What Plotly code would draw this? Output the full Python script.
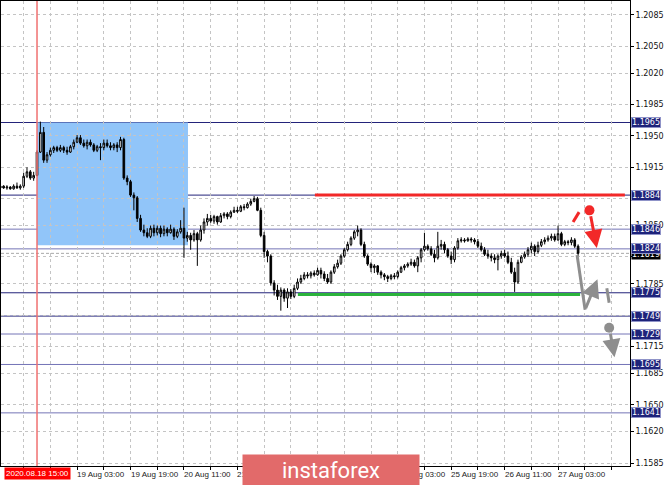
import plotly.graph_objects as go

# ---------------- data (EURUSD H1) ----------------
bar_index = list(range(-11, 163))   # 0 = 2020.08.18 15:00

opens = [1.1892,1.1894,1.1892,1.1893,1.1891,1.1894,1.1892,1.1894,1.1905,1.1910,1.1903,
         1.1906,1.1932,1.1954,1.1923,1.1929,1.1934,1.1937,1.1934,1.1937,1.1934,
         1.1932,1.1938,1.1943,1.1948,1.1942,1.1939,1.1943,1.1940,1.1934,1.1938,
         1.1937,1.1942,1.1939,1.1937,1.1940,1.1937,1.1946,1.1903,1.1899,1.1884,
         1.1881,1.1858,1.1845,1.1842,1.1838,1.1847,1.1842,1.1847,1.1841,1.1846,
         1.1842,1.1846,1.1838,1.1843,1.1847,1.1836,1.1839,1.1834,1.1841,1.1834,
         1.1845,1.1854,1.1858,1.1855,1.1860,1.1854,1.1861,1.1863,1.1860,1.1865,
         1.1867,1.1866,1.1871,1.1870,1.1874,1.1877,1.1880,1.1867,1.1839,1.1821,
         1.1816,1.1786,1.1778,1.1771,1.1778,1.1769,1.1776,1.1771,1.1780,1.1787,
         1.1791,1.1795,1.1794,1.1797,1.1795,1.1800,1.1796,1.1791,1.1787,1.1798,
         1.1804,1.1808,1.1816,1.1823,1.1829,1.1836,1.1843,1.1845,1.1829,1.1816,
         1.1807,1.1803,1.1805,1.1798,1.1795,1.1793,1.1791,1.1794,1.1793,1.1798,
         1.1803,1.1805,1.1807,1.1809,1.1805,1.1814,1.1823,1.1827,1.1824,1.1818,
         1.1814,1.1827,1.1829,1.1823,1.1816,1.1812,1.1825,1.1833,1.1834,1.1833,
         1.1835,1.1834,1.1832,1.1827,1.1823,1.1818,1.1816,1.1814,1.1812,1.1816,
         1.1819,1.1816,1.1809,1.1798,1.1787,1.1809,1.1815,1.1818,1.1823,1.1827,
         1.1821,1.1828,1.1832,1.1834,1.1836,1.1838,1.1834,1.1841,1.1829,1.1832,
         1.1831,1.1834,1.1827]

highs = [1.1896,1.1895,1.1895,1.1894,1.1896,1.1898,1.1896,1.1909,1.1915,1.1912,1.1910,
         1.1934,1.1966,1.1960,1.1932,1.1937,1.1939,1.1939,1.1940,1.1939,1.1938,
         1.1940,1.1946,1.1951,1.1951,1.1946,1.1946,1.1946,1.1942,1.1940,1.1942,
         1.1946,1.1946,1.1943,1.1942,1.1943,1.1949,1.1948,1.1906,1.1901,1.1887,
         1.1883,1.1862,1.1851,1.1847,1.1850,1.1851,1.1850,1.1850,1.1850,1.1848,
         1.1851,1.1848,1.1846,1.1856,1.1870,1.1843,1.1842,1.1845,1.1843,1.1850,
         1.1858,1.1863,1.1862,1.1862,1.1861,1.1864,1.1865,1.1865,1.1867,1.1871,
         1.1871,1.1873,1.1874,1.1876,1.1880,1.1883,1.1882,1.1870,1.1843,1.1823,
         1.1818,1.1789,1.1784,1.1781,1.1780,1.1780,1.1779,1.1784,1.1791,1.1795,
         1.1798,1.1798,1.1799,1.1800,1.1803,1.1803,1.1799,1.1796,1.1800,1.1807,
         1.1812,1.1818,1.1825,1.1832,1.1838,1.1845,1.1850,1.1847,1.1832,1.1818,
         1.1809,1.1807,1.1806,1.1800,1.1797,1.1795,1.1796,1.1797,1.1800,1.1805,
         1.1807,1.1809,1.1813,1.1812,1.1816,1.1825,1.1842,1.1829,1.1827,1.1823,
         1.1843,1.1834,1.1832,1.1825,1.1821,1.1827,1.1836,1.1837,1.1836,1.1837,
         1.1837,1.1836,1.1835,1.1831,1.1826,1.1823,1.1819,1.1818,1.1818,1.1822,
         1.1823,1.1821,1.1814,1.1803,1.1812,1.1817,1.1821,1.1826,1.1831,1.1829,
         1.1832,1.1835,1.1837,1.1839,1.1841,1.1841,1.1850,1.1843,1.1834,1.1834,
         1.1837,1.1836,1.1829]

lows = [1.1890,1.1891,1.1890,1.1890,1.1890,1.1891,1.1890,1.1892,1.1903,1.1901,1.1900,
        1.1905,1.1931,1.1920,1.1920,1.1927,1.1931,1.1932,1.1932,1.1931,1.1929,
        1.1931,1.1935,1.1942,1.1940,1.1937,1.1935,1.1938,1.1932,1.1932,1.1923,
        1.1934,1.1937,1.1934,1.1934,1.1932,1.1934,1.1901,1.1895,1.1882,1.1867,
        1.1854,1.1843,1.1838,1.1836,1.1836,1.1838,1.1839,1.1837,1.1838,1.1838,
        1.1841,1.1834,1.1836,1.1841,1.1814,1.1832,1.1823,1.1832,1.1805,1.1832,
        1.1841,1.1850,1.1853,1.1852,1.1851,1.1853,1.1858,1.1857,1.1858,1.1864,
        1.1864,1.1865,1.1867,1.1869,1.1872,1.1876,1.1866,1.1837,1.1814,1.1809,
        1.1783,1.1772,1.1767,1.1755,1.1765,1.1758,1.1768,1.1769,1.1778,1.1785,
        1.1789,1.1791,1.1791,1.1793,1.1794,1.1791,1.1788,1.1785,1.1785,1.1796,
        1.1802,1.1806,1.1814,1.1821,1.1827,1.1834,1.1838,1.1827,1.1814,1.1805,
        1.1798,1.1797,1.1795,1.1791,1.1789,1.1787,1.1789,1.1790,1.1791,1.1797,
        1.1800,1.1803,1.1805,1.1803,1.1798,1.1809,1.1821,1.1822,1.1816,1.1809,
        1.1812,1.1823,1.1819,1.1814,1.1807,1.1809,1.1823,1.1831,1.1831,1.1832,
        1.1831,1.1829,1.1825,1.1821,1.1816,1.1813,1.1810,1.1808,1.1800,1.1813,
        1.1814,1.1807,1.1796,1.1776,1.1785,1.1808,1.1813,1.1815,1.1819,1.1816,
        1.1819,1.1826,1.1829,1.1832,1.1833,1.1832,1.1833,1.1827,1.1827,1.1828,
        1.1828,1.1825,1.1816]

closes = [1.1894,1.1892,1.1893,1.1891,1.1894,1.1892,1.1894,1.1905,1.1910,1.1903,1.1906,
          1.1932,1.1954,1.1923,1.1929,1.1934,1.1937,1.1934,1.1937,1.1934,1.1932,
          1.1938,1.1943,1.1948,1.1942,1.1939,1.1943,1.1940,1.1934,1.1938,1.1937,
          1.1942,1.1939,1.1937,1.1940,1.1937,1.1946,1.1903,1.1899,1.1884,1.1881,
          1.1858,1.1845,1.1842,1.1838,1.1847,1.1842,1.1847,1.1841,1.1846,1.1842,
          1.1846,1.1838,1.1843,1.1847,1.1836,1.1839,1.1834,1.1841,1.1834,1.1845,
          1.1854,1.1858,1.1855,1.1860,1.1854,1.1861,1.1863,1.1860,1.1865,1.1867,
          1.1866,1.1871,1.1870,1.1874,1.1877,1.1880,1.1867,1.1839,1.1821,1.1816,
          1.1786,1.1778,1.1771,1.1778,1.1769,1.1776,1.1771,1.1780,1.1787,1.1791,
          1.1795,1.1794,1.1797,1.1795,1.1800,1.1796,1.1791,1.1787,1.1798,1.1804,
          1.1808,1.1816,1.1823,1.1829,1.1836,1.1843,1.1845,1.1829,1.1816,1.1807,
          1.1803,1.1805,1.1798,1.1795,1.1793,1.1791,1.1794,1.1793,1.1798,1.1803,
          1.1805,1.1807,1.1809,1.1805,1.1814,1.1823,1.1827,1.1824,1.1818,1.1814,
          1.1827,1.1829,1.1823,1.1816,1.1812,1.1825,1.1833,1.1834,1.1833,1.1835,
          1.1834,1.1832,1.1827,1.1823,1.1818,1.1816,1.1814,1.1812,1.1816,1.1819,
          1.1816,1.1809,1.1798,1.1787,1.1809,1.1815,1.1818,1.1823,1.1827,1.1821,
          1.1828,1.1832,1.1834,1.1836,1.1838,1.1834,1.1841,1.1829,1.1832,1.1831,
          1.1834,1.1827,1.1819]

level_values = [1.1965, 1.1884, 1.1846, 1.1824, 1.1775, 1.1749, 1.1729, 1.1695, 1.1641]
current_price = 1.1819
y_tick_values = [1.2085, 1.2050, 1.2020, 1.1985, 1.1950, 1.1915, 1.1880, 1.1850,
                 1.1815, 1.1785, 1.1750, 1.1715, 1.1685, 1.1650, 1.1620, 1.1585]
y_tick_hidden = [1.1880, 1.1815, 1.1750]   # covered by the level boxes in the picture
time_tick_index = [12, 28, 44, 60, 76, 92, 108, 124, 140, 156]
time_tick_labels = ["19 Aug 03:00", "19 Aug 19:00", "20 Aug 11:00", "21 Aug 03:00",
                    "21 Aug 19:00", "24 Aug 11:00", "25 Aug 03:00", "25 Aug 19:00",
                    "26 Aug 11:00", "27 Aug 03:00"]
cursor_index = 0
cursor_label = "2020.08.18 15:00"
zone_start, zone_end = 0, 45.2
zone_high, zone_low = 1.1965, 1.1828
resistance_price, resistance_start, resistance_end = 1.1884, 83.2, 176.0
support_price, support_start, support_end = 1.1773, 78.1, 162.6

# forecast sketch points (bar index, price)
red_dash = [(160.5, 1.1854), (162.3, 1.1865)]
red_dot = (165.4, 1.1867)
red_arrow = [(165.7, 1.1862), (167.6, 1.1825)]
gray_leg = [(161.7, 1.1817), (164.1, 1.1756)]
gray_arrow1 = [(164.1, 1.1756), (167.8, 1.1790)]
gray_dash = [(170.6, 1.1780), (171.3, 1.1764)]
gray_dot = (171.3, 1.1736)
gray_arrow2 = [(171.6, 1.1731), (172.9, 1.1703)]

assert len(opens) == len(highs) == len(lows) == len(closes) == len(bar_index)

# ---------------- styling ----------------
DARK = "#23237a"
MID = "#7474b6"
level_colors = [DARK, DARK, MID, MID, DARK, DARK, MID, MID, MID]
RED = "#f22828"
GRAY = "#8e8e8e"
GREEN = "#2bb33c"
FONT = "DejaVu Sans"

X_RANGE = [-10.78, 177.54]
Y_RANGE = [1.15817, 1.21006]

fig = go.Figure()
fig.add_trace(go.Candlestick(
    x=bar_index, open=opens, high=highs, low=lows, close=closes,
    increasing=dict(line=dict(color="black", width=1), fillcolor="white"),
    decreasing=dict(line=dict(color="black", width=1), fillcolor="black"),
    whiskerwidth=0, showlegend=False, hoverinfo="skip"))

# dots of the forecast sketch
fig.add_trace(go.Scatter(x=[red_dot[0]], y=[red_dot[1]], mode="markers",
                         marker=dict(color=RED, size=10), showlegend=False, hoverinfo="skip"))
fig.add_trace(go.Scatter(x=[gray_dot[0]], y=[gray_dot[1]], mode="markers",
                         marker=dict(color=GRAY, size=10), showlegend=False, hoverinfo="skip"))

shapes = []
# blue zone
shapes.append(dict(type="rect", xref="x", yref="y", x0=zone_start, x1=zone_end,
                   y0=zone_low, y1=zone_high, fillcolor="#91c5f9", line=dict(width=0),
                   layer="below"))
# horizontal levels
for lv, col in zip(level_values, level_colors):
    shapes.append(dict(type="line", xref="paper", yref="y", x0=0, x1=1, y0=lv, y1=lv,
                       line=dict(color=col, width=1), layer="between"))
# current price line
shapes.append(dict(type="line", xref="paper", yref="y", x0=0, x1=1,
                   y0=current_price, y1=current_price,
                   line=dict(color="#a8a8a8", width=1, dash="3px,2px"), layer="between"))
# red vertical cursor line
shapes.append(dict(type="line", xref="x", yref="paper", x0=cursor_index, x1=cursor_index,
                   y0=0, y1=1, line=dict(color="#f07070", width=1.5), layer="above"))
# resistance / support thick lines
shapes.append(dict(type="line", xref="x", yref="y", x0=resistance_start, x1=resistance_end,
                   y0=resistance_price, y1=resistance_price,
                   line=dict(color=RED, width=3), layer="above"))
shapes.append(dict(type="line", xref="x", yref="y", x0=support_start, x1=support_end,
                   y0=support_price, y1=support_price,
                   line=dict(color=GREEN, width=3), layer="above"))
# sketch segments
for seg, col in [(red_dash, RED), (gray_leg, GRAY), (gray_dash, GRAY)]:
    shapes.append(dict(type="line", xref="x", yref="y", x0=seg[0][0], y0=seg[0][1],
                       x1=seg[1][0], y1=seg[1][1], line=dict(color=col, width=3),
                       layer="above"))

annotations = []
# sketch arrows
for seg, col in [(red_arrow, RED), (gray_arrow1, GRAY), (gray_arrow2, GRAY)]:
    annotations.append(dict(x=seg[1][0], y=seg[1][1], ax=seg[0][0], ay=seg[0][1],
                            xref="x", yref="y", axref="x", ayref="y", text="",
                            showarrow=True, arrowhead=2, arrowsize=1.2, arrowwidth=3,
                            arrowcolor=col))

# current price box (drawn first so the level boxes sit on top of it)
annotations.append(dict(xref="paper", yref="y", x=1, y=current_price, xanchor="left",
                        yanchor="middle", xshift=1, yshift=-1, text=f"{current_price:.4f}",
                        showarrow=False, bgcolor="black", borderpad=0,
                        font=dict(family=FONT, size=8, color="white")))
# right-side level labels
for lv in level_values:
    annotations.append(dict(xref="paper", yref="y", x=1, y=lv, xanchor="left",
                            yanchor="middle", xshift=1, text=f"{lv:.4f}",
                            showarrow=False, bgcolor="#1e237a", bordercolor="#8f93c8",
                            borderwidth=1, borderpad=0,
                            font=dict(family=FONT, size=8, color="white")))

# time axis labels (left aligned on their tick, MT4 style)
for ix, lab in zip(time_tick_index, time_tick_labels):
    annotations.append(dict(xref="x", yref="paper", x=ix, y=0, xanchor="left",
                            yanchor="top", xshift=-2, yshift=-2, text=lab,
                            showarrow=False,
                            font=dict(family="Liberation Sans", size=8, color="#222")))
# cursor date box
annotations.append(dict(xref="x", yref="paper", x=cursor_index, y=0, xanchor="center",
                        yanchor="top", yshift=-1, text=cursor_label, showarrow=False,
                        bgcolor="#ff0000", borderpad=1,
                        font=dict(family="Liberation Sans", size=8, color="white")))
# watermark banner
annotations.append(dict(xref="paper", yref="paper", x=0.5254, y=-0.0086,
                        xanchor="center", yanchor="middle", text="instaforex",
                        showarrow=False, bgcolor="#e26a6a", width=174, height=28,
                        borderpad=1,
                        font=dict(family="Roboto", size=22, color="white")))

y_tick_text = ["" if v in y_tick_hidden else f"{v:.4f}" for v in y_tick_values]

fig.update_layout(
    width=665, height=485,
    margin=dict(l=1, r=35, t=1, b=19),
    paper_bgcolor="white", plot_bgcolor="white",
    shapes=shapes, annotations=annotations,
    showlegend=False,
    xaxis=dict(range=X_RANGE, tickvals=list(range(-4, 178, 8)), showticklabels=False,
               ticks="outside", ticklen=3, tickcolor="black",
               showgrid=True, gridcolor="#c4c4c4", griddash="3px,3px", gridwidth=1,
               showline=True, mirror=True, linecolor="black", linewidth=1,
               zeroline=False, rangeslider=dict(visible=False), fixedrange=True),
    yaxis=dict(range=Y_RANGE, side="right", tickvals=y_tick_values, ticktext=y_tick_text,
               ticks="outside", ticklen=3, tickcolor="black",
               tickfont=dict(family=FONT, size=8, color="#111"),
               showgrid=True, gridcolor="#c4c4c4", griddash="3px,3px", gridwidth=1,
               showline=True, mirror=True, linecolor="black", linewidth=1,
               zeroline=False, fixedrange=True),
)

fig.write_html("out.html", config={"displayModeBar": False},
               post_script="document.body.style.margin='0';document.body.style.overflow='hidden';")
